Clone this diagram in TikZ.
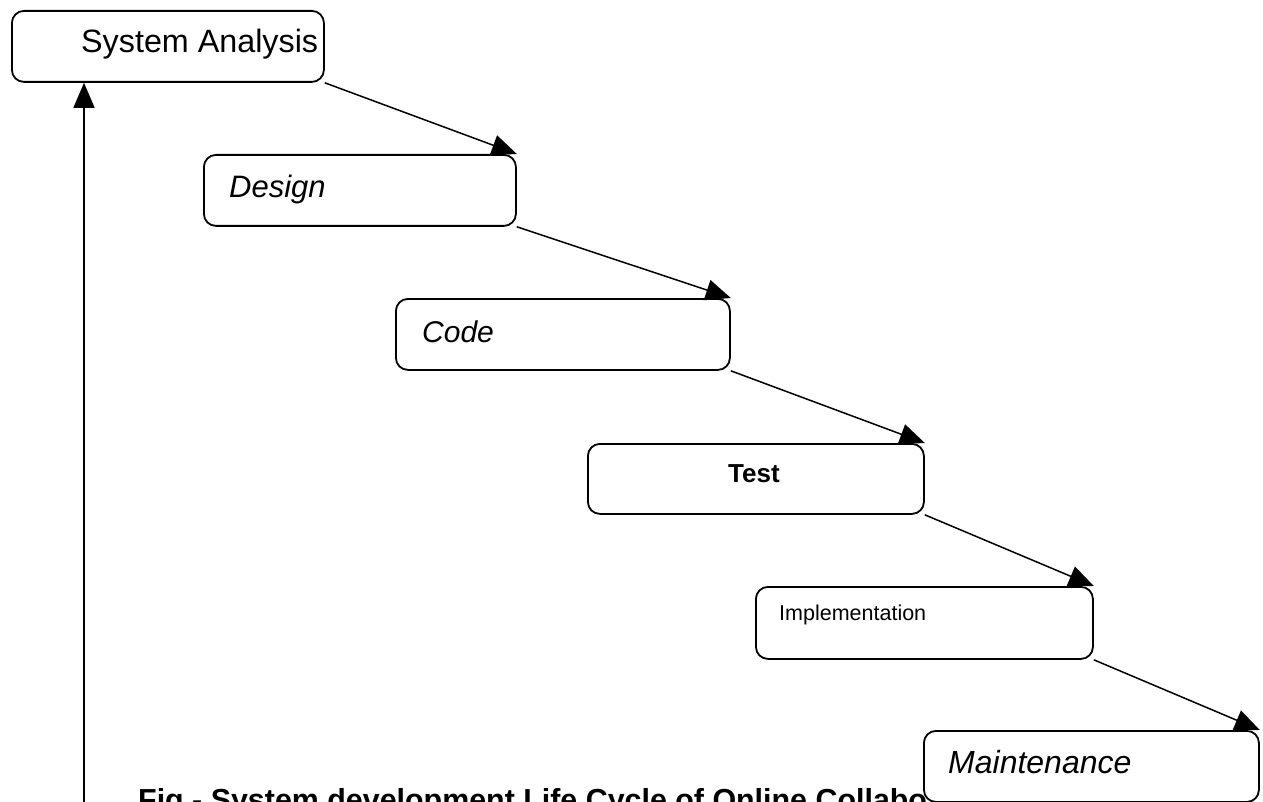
\documentclass[tikz,border=0pt]{standalone}
\usepackage{fontspec}
\setmainfont{Liberation Sans}
\usetikzlibrary{arrows.meta}
\begin{document}
\begin{tikzpicture}[x=1pt,y=-1pt,
  box/.style={draw, line width=1.8pt, rounded corners=12pt, fill=white, inner sep=0pt, anchor=north west},
  arr/.style={line width=1.5pt, -{Triangle[length=25pt,width=21pt]}},
  lbl/.style={inner sep=0pt, anchor=base west}]
\useasboundingbox (0,0) rectangle (1263,802);
% caption (partly hidden by the Maintenance box, cut by the page edge)
\node[lbl] (cap) at (138,810) {\fontsize{30.4}{36}\selectfont\bfseries Fig - System development Life Cycle of Online Collabo};
% boxes
\node[box, minimum width=312pt, minimum height=71pt] (sa) at (11,10) {};
\node[box, minimum width=312pt, minimum height=71pt] (de) at (203,154) {};
\node[box, minimum width=334pt, minimum height=71pt] (co) at (395,298) {};
\node[box, minimum width=336pt, minimum height=70pt] (te) at (587,443) {};
\node[box, minimum width=337pt, minimum height=72pt] (im) at (755,586) {};
\node[box, minimum width=335pt, minimum height=71pt] (ma) at (923,730) {};
% texts
\node[lbl] (tsa) at (81,53) {\fontsize{32.3}{38}\selectfont System Analysis};
\node[lbl] (tde) at (229,198) {\fontsize{31}{37}\selectfont\itshape Design};
\node[lbl] (tco) at (422,342) {\fontsize{30}{36}\selectfont\itshape Code};
\node[lbl] (tte) at (728,482) {\fontsize{26}{31}\selectfont\bfseries Test};
\node[lbl] (tim) at (779,620) {\fontsize{21.5}{26}\selectfont Implementation};
\node[lbl] (tma) at (948,773) {\fontsize{32}{38}\selectfont\itshape Maintenance};
% connectors
\draw[arr] (sa.south east) -- (de.north east);
\draw[arr] (de.south east) -- (co.north east);
\draw[arr] (co.south east) -- (te.north east);
\draw[arr] (te.south east) -- (im.north east);
\draw[arr] (im.south east) -- (ma.north east);
\coordinate (vs) at (84,806);
\draw[arr] (vs) -- (vs |- sa.south);
\end{tikzpicture}
\end{document}
